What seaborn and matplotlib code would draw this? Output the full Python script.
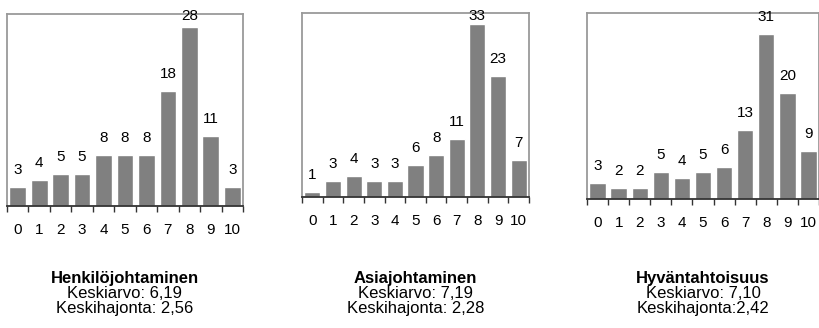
import matplotlib
matplotlib.use("Agg")
import matplotlib.pyplot as plt
import pandas as pd
import seaborn as sns

# Score scale 0-10 and response counts for each leadership dimension
scores = [str(s) for s in range(11)]
henkilojohtaminen = [3, 4, 5, 5, 8, 8, 8, 18, 28, 11, 3]
asiajohtaminen = [1, 3, 4, 3, 3, 6, 8, 11, 33, 23, 7]
hyvantahtoisuus = [3, 2, 2, 5, 4, 5, 6, 13, 31, 20, 9]

titles = ["Henkilöjohtaminen", "Asiajohtaminen", "Hyväntahtoisuus"]
means = ["Keskiarvo: 6,19", "Keskiarvo: 7,19", "Keskiarvo: 7,10"]
deviations = ["Keskihajonta: 2,56", "Keskihajonta: 2,28", "Keskihajonta:2,42"]
y_max = [30, 35, 35]

sns.set_theme(style="white")
plt.rcParams["font.family"] = ["Liberation Sans", "DejaVu Sans"]
plt.rcParams["text.color"] = "black"
plt.rcParams["xtick.color"] = "black"
plt.rcParams["xtick.labelcolor"] = "black"

W, H = 820, 328
fig = plt.figure(figsize=(W / 100, H / 100), dpi=100)

# panel frames in pixels: left, right, top, bottom
frames = [(7, 243, 14, 206), (302, 529, 13, 197), (587, 819, 13, 199)]
series = [henkilojohtaminen, asiajohtaminen, hyvantahtoisuus]

bar_color = "#808080"
frame_color = "#9a9a9a"

for (l, r, t, b), counts, title, mean, dev, ymax in zip(
        frames, series, titles, means, deviations, y_max):
    ax = fig.add_axes([l / W, 1 - b / H, (r - l) / W, (b - t) / H])
    df = pd.DataFrame({"score": scores, "count": counts})
    sns.barplot(data=df, x="score", y="count", order=scores, color=bar_color,
                saturation=1, width=0.78, ax=ax)
    ax.set_xlim(-0.5, 10.5)
    ax.set_ylim(0, ymax)
    ax.set_xlabel("")
    ax.set_ylabel("")
    ax.set_yticks([])

    for side in ("top", "left", "right"):
        ax.spines[side].set_visible(True)
        ax.spines[side].set_color(frame_color)
        ax.spines[side].set_linewidth(1.3)
    ax.spines["bottom"].set_color("#333333")
    ax.spines["bottom"].set_linewidth(1.3)

    # labels centred on bars, tick marks between categories
    ax.set_xticks(range(11))
    ax.set_xticklabels(scores, fontsize=11, color="black")
    ax.set_xticks([i - 0.5 for i in range(12)], minor=True)
    ax.tick_params(axis="x", which="major", length=0, pad=12)
    ax.tick_params(axis="x", which="minor", length=4, width=1,
                   color="#333333", direction="out", bottom=True)

    # value labels above each bar, kept inside the figure top
    inv = fig.transFigure.inverted()
    for i, v in enumerate(counts):
        x_disp, y_disp = ax.transData.transform((i, v))
        base = min(y_disp + 13, H - 20)
        fx, fy = inv.transform((x_disp, base))
        fig.text(fx, fy, str(v), ha="center", va="baseline", fontsize=11,
                 color="black")

    cx = (l + r) / 2 / W
    fig.text(cx, 1 - 278 / H, title, ha="center", va="center",
             fontsize=12, fontweight="bold", color="black")
    fig.text(cx, 1 - 293 / H, mean, ha="center", va="center", fontsize=12,
             color="black")
    fig.text(cx, 1 - 309 / H, dev, ha="center", va="center", fontsize=12,
             color="black")

fig.savefig("out.png", dpi=100, facecolor="white")
